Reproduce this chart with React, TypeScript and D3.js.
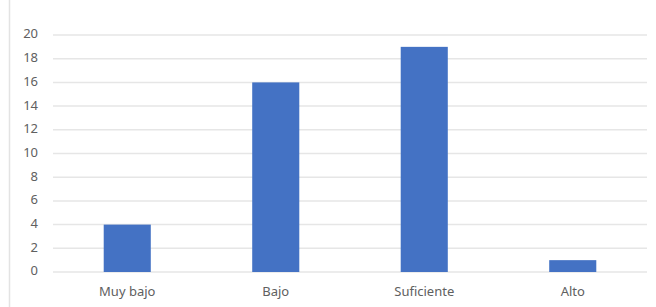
import React from "react";
import * as d3 from "d3";

const WIDTH = 656;
const HEIGHT = 307;
const MARGIN = { top: 35, right: 9, bottom: 35, left: 53 };

const categories = ["Muy bajo", "Bajo", "Suficiente", "Alto"];
const values = [4, 16, 19, 1];
const yTicks = [0, 2, 4, 6, 8, 10, 12, 14, 16, 18, 20];

const BAR_COLOR = "#4472c4";
const GRID_COLOR = "#e6e6e6";
const TEXT_COLOR = "#606060";

export default function App() {
  const innerW = WIDTH - MARGIN.left - MARGIN.right;
  const innerH = HEIGHT - MARGIN.top - MARGIN.bottom;

  const x = d3
    .scaleBand<string>()
    .domain(categories)
    .range([0, innerW])
    .paddingInner(0.683)
    .paddingOuter(0.3415);

  const y = d3.scaleLinear().domain([0, 20]).range([innerH, 0]);

  return (
    <svg
      width={WIDTH}
      height={HEIGHT}
      style={{ position: "fixed", left: 0, top: 0, background: "#fff" }}
      fontFamily="'Noto Sans', 'Open Sans', sans-serif"
    >
      <rect x={0} y={0} width={WIDTH} height={HEIGHT} fill="#fff" />
      <line x1={9.5} y1={0} x2={9.5} y2={HEIGHT} stroke="#e3e3e3" strokeWidth={1.5} />
      <g transform={`translate(${MARGIN.left},${MARGIN.top})`}>
        {yTicks.map((t) => (
          <g key={t}>
            <line
              x1={0}
              x2={innerW}
              y1={y(t)}
              y2={y(t)}
              stroke={GRID_COLOR}
              strokeWidth={1.5}
            />
            <text
              x={-15}
              y={y(t)}
              textAnchor="end"
              dominantBaseline="middle"
              fontSize={13}
              fill={TEXT_COLOR}
            >
              {t}
            </text>
          </g>
        ))}
        {categories.map((c, i) => (
          <g key={c}>
            <rect
              x={x(c)}
              y={y(values[i])}
              width={x.bandwidth()}
              height={innerH - y(values[i])}
              fill={BAR_COLOR}
            />
            <text
              x={(x(c) ?? 0) + x.bandwidth() / 2}
              y={innerH + 21}
              textAnchor="middle"
              dominantBaseline="middle"
              fontSize={13}
              fill={TEXT_COLOR}
            >
              {c}
            </text>
          </g>
        ))}
      </g>
    </svg>
  );
}
